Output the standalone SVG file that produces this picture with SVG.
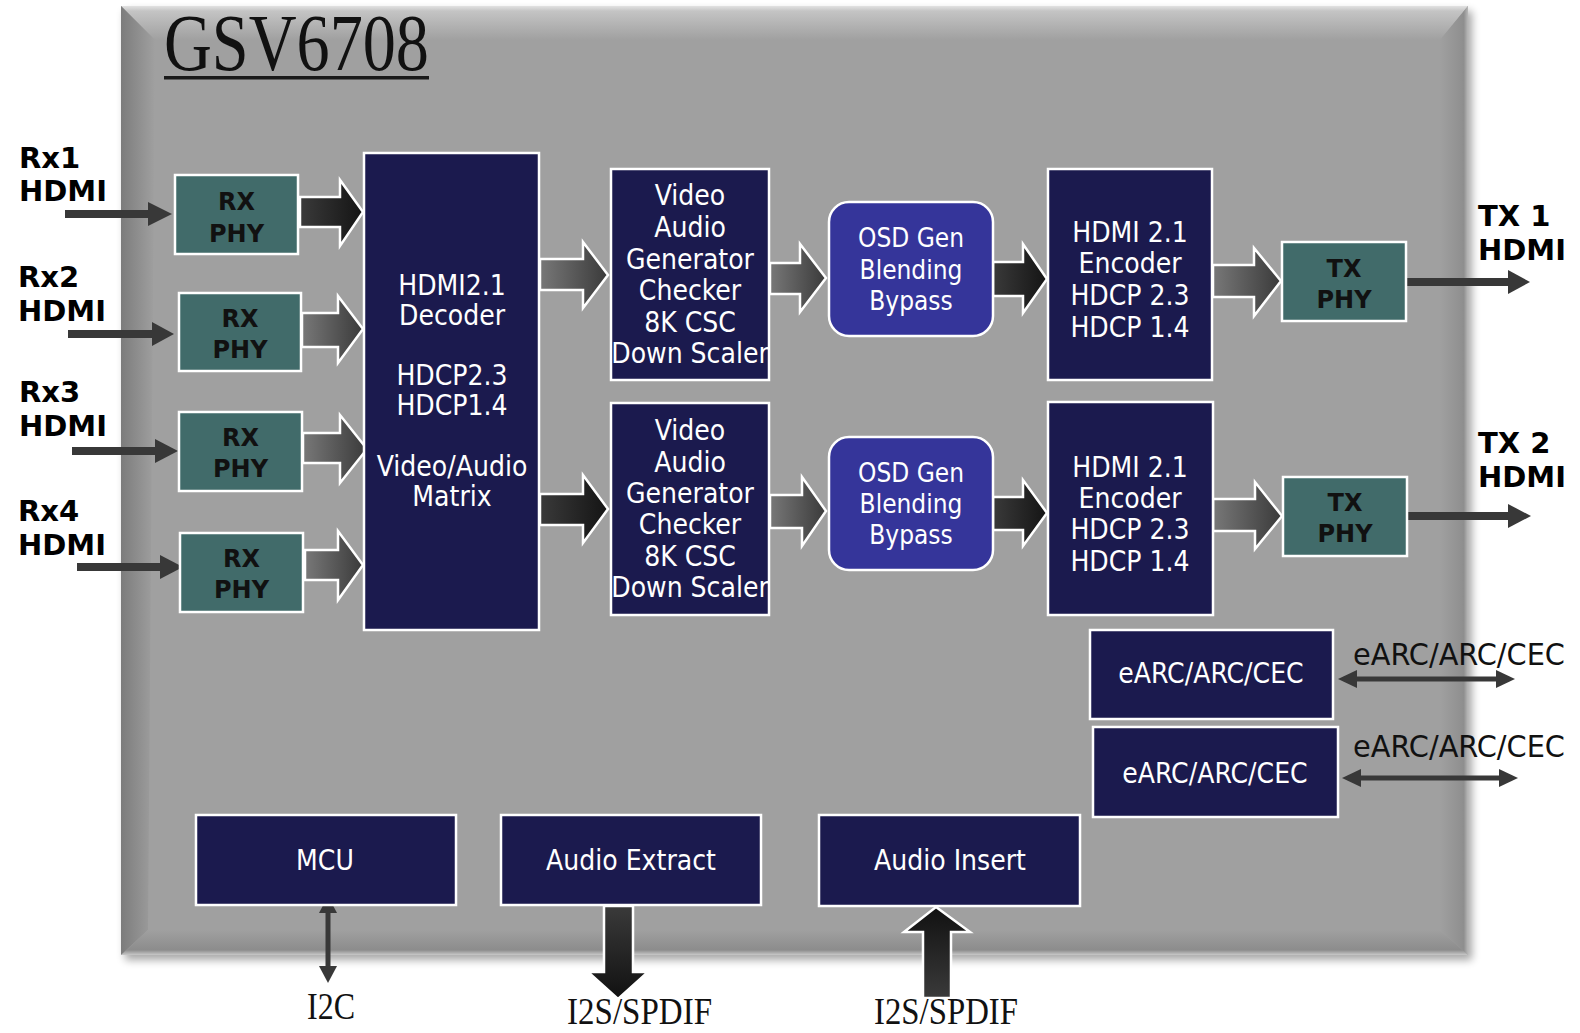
<svg xmlns="http://www.w3.org/2000/svg" width="1580" height="1033" viewBox="0 0 1580 1033">
<style>
.navy{fill:#1b1a4e;stroke:#fff;stroke-width:2.5}
.teal{fill:#416b6a;stroke:#fff;stroke-width:2.5}
.osd{fill:#35359a;stroke:#fff;stroke-width:2.5}
.t{font-family:"DejaVu Sans Condensed","DejaVu Sans",sans-serif;font-stretch:condensed;font-size:28px;fill:#fff;text-anchor:middle}
.to{font-size:26px}
.tb{font-family:"DejaVu Sans",sans-serif;font-weight:bold;font-size:24px;fill:#111;text-anchor:middle}
.lb{font-family:"DejaVu Sans",sans-serif;font-weight:bold;font-size:29px;fill:#000}
.ext{font-family:"DejaVu Sans Condensed","DejaVu Sans",sans-serif;font-stretch:condensed;font-size:31px;fill:#111}
.ser{font-family:"Liberation Serif",serif;fill:#111}
.ba{stroke:#fff;stroke-width:2.5;stroke-linejoin:miter}
.dk{fill:url(#gdk)}
.gy{fill:url(#ggy)}
.thin{fill:#383838}
</style>
<defs>
<linearGradient id="gdk" x1="0" y1="0" x2="1" y2="0"><stop offset="0" stop-color="#3a3a3a"/><stop offset="1" stop-color="#141414"/></linearGradient>
<linearGradient id="ggy" x1="0" y1="0" x2="1" y2="0"><stop offset="0" stop-color="#787878"/><stop offset="1" stop-color="#3a3a3a"/></linearGradient>
<linearGradient id="gdown" x1="0" y1="0" x2="0" y2="1"><stop offset="0" stop-color="#3a3a3a"/><stop offset="1" stop-color="#111"/></linearGradient>
<linearGradient id="gup" x1="0" y1="0" x2="0" y2="1"><stop offset="0" stop-color="#111"/><stop offset="1" stop-color="#3a3a3a"/></linearGradient>
<linearGradient id="bt" x1="0" y1="0" x2="0" y2="1"><stop offset="0" stop-color="#e2e2e2"/><stop offset="0.15" stop-color="#c4c4c4"/><stop offset="1" stop-color="#a0a0a0"/></linearGradient>
<linearGradient id="bl" x1="0" y1="0" x2="1" y2="0"><stop offset="0" stop-color="#7c7c7c"/><stop offset="1" stop-color="#a0a0a0"/></linearGradient>
<linearGradient id="br" x1="0" y1="0" x2="1" y2="0"><stop offset="0" stop-color="#a0a0a0"/><stop offset="0.85" stop-color="#8e8e8e"/><stop offset="1" stop-color="#b8b8b8"/></linearGradient>
<linearGradient id="bb" x1="0" y1="0" x2="0" y2="1"><stop offset="0" stop-color="#a0a0a0"/><stop offset="0.8" stop-color="#8c8c8c"/><stop offset="1" stop-color="#c8c8c8"/></linearGradient>
<filter id="sh" x="-5%" y="-5%" width="110%" height="110%"><feGaussianBlur stdDeviation="4"/></filter>
</defs>

<g id="panel">
<rect x="125" y="11" width="1347" height="949" fill="#000" opacity="0.35" filter="url(#sh)"/>
<rect x="121" y="6" width="1347" height="949" fill="#a0a0a0"/>
<polygon points="121,6 1468,6 1440,40 155,40" fill="url(#bt)"/>
<polygon points="121,6 155,40 148,930 121,955" fill="url(#bl)"/>
<polygon points="1468,6 1468,955 1440,930 1440,40" fill="url(#br)"/>
<polygon points="121,955 148,930 1440,930 1468,955" fill="url(#bb)"/>
<rect x="155" y="40" width="1285" height="890" fill="#a0a0a0"/>
</g>

<g id="title">
<text class="ser" x="164" y="70" font-size="80" textLength="265" lengthAdjust="spacingAndGlyphs">GSV6708</text>
<rect x="164" y="76" width="265" height="3.5" fill="#1a1a1a"/>
</g>

<g id="connectors">
<rect class="thin" x="65" y="210" width="85" height="8"/><polygon class="thin" points="148,202 172,214 148,226"/>
<rect class="thin" x="68" y="330" width="86" height="8"/><polygon class="thin" points="152,322 174,334 152,346"/>
<rect class="thin" x="72" y="447" width="85" height="8"/><polygon class="thin" points="155,439 178,451 155,463"/>
<rect class="thin" x="77" y="563" width="85" height="8"/><polygon class="thin" points="160,555 183,567 160,579"/>
<rect class="thin" x="1406" y="278" width="104" height="8"/><polygon class="thin" points="1508,270 1530,282 1508,294"/>
<rect class="thin" x="1407" y="512" width="103" height="8"/><polygon class="thin" points="1508,504 1531,516 1508,528"/>
<rect class="thin" x="1350" y="676.5" width="153" height="5"/><polygon class="thin" points="1338,679 1357,670 1357,688"/><polygon class="thin" points="1515,679 1496,670 1496,688"/>
<rect class="thin" x="1354" y="775.5" width="152" height="5"/><polygon class="thin" points="1342,778 1361,769 1361,787"/><polygon class="thin" points="1518,778 1499,769 1499,787"/>
<rect class="thin" x="325.5" y="908" width="5" height="63"/><polygon class="thin" points="328,896 319,913 337,913"/><polygon class="thin" points="328,983 319,966 337,966"/>
<polygon class="ba dk" points="300,197 340,197 340,180 363,212 340,246 340,227 300,227"/>
<polygon class="ba gy" points="302,313 338,313 338,296 363,329 338,363 338,347 302,347"/>
<polygon class="ba gy" points="303,433 340,433 340,415 367,449 340,483 340,463 303,463"/>
<polygon class="ba gy" points="305,550 338,550 338,531 363,565 338,600 338,580 305,580"/>
<polygon class="ba gy" points="540,259 583,259 583,242 608,275 583,308 583,290 540,290"/>
<polygon class="ba dk" points="540,494 583,494 583,475 608,509 583,543 583,525 540,525"/>
<polygon class="ba gy" points="770,263 800,263 800,244 826,278 800,312 800,294 770,294"/>
<polygon class="ba gy" points="770,495 802,495 802,477 826,511 802,546 802,528 770,528"/>
<polygon class="ba dk" points="993,262 1023,262 1023,244 1047,279 1023,313 1023,296 993,296"/>
<polygon class="ba dk" points="993,497 1023,497 1023,480 1047,513 1023,546 1023,530 993,530"/>
<polygon class="ba gy" points="1213,265 1254,265 1254,248 1281,281 1254,316 1254,297 1213,297"/>
<polygon class="ba gy" points="1213,499 1255,499 1255,482 1282,516 1255,549 1255,531 1213,531"/>
<polygon class="ba" fill="url(#gdown)" points="604,906 633,906 633,972 648,972 618,999 588,972 604,972"/>
<polygon class="ba" fill="url(#gup)" points="936,907 970,932 951,932 951,998 923,998 923,932 904,932"/>
</g>

<g id="rx-labels">
<text class="lb" x="19" y="168">Rx1</text><text class="lb" x="19" y="201">HDMI</text>
<text class="lb" x="18" y="287">Rx2</text><text class="lb" x="18" y="321">HDMI</text>
<text class="lb" x="19" y="402">Rx3</text><text class="lb" x="19" y="436">HDMI</text>
<text class="lb" x="18" y="521">Rx4</text><text class="lb" x="18" y="555">HDMI</text>
</g>
<g id="tx-labels">
<text class="lb" x="1478" y="226">TX 1</text><text class="lb" x="1478" y="260">HDMI</text>
<text class="lb" x="1478" y="453">TX 2</text><text class="lb" x="1478" y="487">HDMI</text>
</g>

<g id="rx1"><rect class="teal" x="175" y="175" width="123" height="79"/><text class="tb" x="236.5" y="210">RX</text><text class="tb" x="236.5" y="242">PHY</text></g>
<g id="rx2"><rect class="teal" x="179" y="293" width="122" height="78"/><text class="tb" x="240" y="327">RX</text><text class="tb" x="240" y="358">PHY</text></g>
<g id="rx3"><rect class="teal" x="179" y="412" width="123" height="79"/><text class="tb" x="240.5" y="446">RX</text><text class="tb" x="240.5" y="477">PHY</text></g>
<g id="rx4"><rect class="teal" x="180" y="533" width="123" height="79"/><text class="tb" x="241.5" y="567">RX</text><text class="tb" x="241.5" y="598">PHY</text></g>

<g id="decoder"><rect class="navy" x="364" y="153" width="175" height="477"/>
<text class="t" x="452" y="295">HDMI2.1</text><text class="t" x="452" y="325">Decoder</text>
<text class="t" x="452" y="385">HDCP2.3</text><text class="t" x="452" y="415">HDCP1.4</text>
<text class="t" x="452" y="476">Video/Audio</text><text class="t" x="452" y="506">Matrix</text></g>

<g id="vag1"><rect class="navy" x="611" y="169" width="158" height="211"/>
<text class="t" x="690" y="205">Video</text><text class="t" x="690" y="237">Audio</text><text class="t" x="690" y="269">Generator</text><text class="t" x="690" y="300">Checker</text><text class="t" x="690" y="332">8K CSC</text><text class="t" x="690" y="363">Down Scaler</text></g>
<g id="vag2"><rect class="navy" x="611" y="403" width="158" height="212"/>
<text class="t" x="690" y="440">Video</text><text class="t" x="690" y="472">Audio</text><text class="t" x="690" y="503">Generator</text><text class="t" x="690" y="534">Checker</text><text class="t" x="690" y="566">8K CSC</text><text class="t" x="690" y="597">Down Scaler</text></g>

<g id="osd1"><rect class="osd" x="829" y="202" width="164" height="134" rx="20"/>
<text class="t to" x="911" y="247">OSD Gen</text><text class="t to" x="911" y="279">Blending</text><text class="t to" x="911" y="310">Bypass</text></g>
<g id="osd2"><rect class="osd" x="829" y="437" width="164" height="133" rx="20"/>
<text class="t to" x="911" y="482">OSD Gen</text><text class="t to" x="911" y="513">Blending</text><text class="t to" x="911" y="544">Bypass</text></g>

<g id="enc1"><rect class="navy" x="1048" y="169" width="164" height="211"/>
<text class="t" x="1130" y="242">HDMI 2.1</text><text class="t" x="1130" y="273">Encoder</text><text class="t" x="1130" y="305">HDCP 2.3</text><text class="t" x="1130" y="337">HDCP 1.4</text></g>
<g id="enc2"><rect class="navy" x="1048" y="402" width="165" height="213"/>
<text class="t" x="1130" y="477">HDMI 2.1</text><text class="t" x="1130" y="508">Encoder</text><text class="t" x="1130" y="539">HDCP 2.3</text><text class="t" x="1130" y="571">HDCP 1.4</text></g>

<g id="tx1"><rect class="teal" x="1282" y="242" width="124" height="79"/><text class="tb" x="1344" y="277">TX</text><text class="tb" x="1344" y="308">PHY</text></g>
<g id="tx2"><rect class="teal" x="1283" y="477" width="124" height="79"/><text class="tb" x="1345" y="511">TX</text><text class="tb" x="1345" y="542">PHY</text></g>

<g id="earc1"><rect class="navy" x="1090" y="630" width="243" height="89"/><text class="t" x="1211" y="683">eARC/ARC/CEC</text></g>
<g id="earc2"><rect class="navy" x="1093" y="727" width="245" height="90"/><text class="t" x="1215" y="783">eARC/ARC/CEC</text></g>
<g id="earc-labels">
<text class="ext" x="1353" y="665" textLength="212" lengthAdjust="spacingAndGlyphs">eARC/ARC/CEC</text>
<text class="ext" x="1353" y="757" textLength="212" lengthAdjust="spacingAndGlyphs">eARC/ARC/CEC</text>
</g>

<g id="mcu"><rect class="navy" x="196" y="815" width="260" height="90"/><text class="t" x="325" y="870">MCU</text></g>
<g id="audio-extract"><rect class="navy" x="501" y="815" width="260" height="90"/><text class="t" x="631" y="870">Audio Extract</text></g>
<g id="audio-insert"><rect class="navy" x="819" y="815" width="261" height="91"/><text class="t" x="950" y="870">Audio Insert</text></g>

<g id="bottom-labels">
<text class="ser" x="307" y="1019" font-size="37" textLength="48" lengthAdjust="spacingAndGlyphs">I2C</text>
<text class="ser" x="567" y="1024" font-size="37" textLength="145" lengthAdjust="spacingAndGlyphs">I2S/SPDIF</text>
<text class="ser" x="874" y="1024" font-size="37" textLength="144" lengthAdjust="spacingAndGlyphs">I2S/SPDIF</text>
</g>
</svg>
